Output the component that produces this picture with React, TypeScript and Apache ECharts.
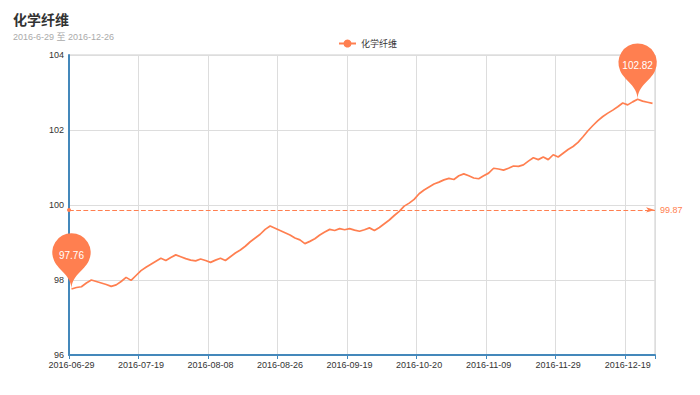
import React, { useEffect, useRef } from "react";
import * as echarts from "echarts";

const titleText = "化学纤维";
const subTitleText = "2016-6-29 至 2016-12-26";
const seriesName = "化学纤维";

const dates: string[] = [
  "2016-06-29", "2016-06-30", "2016-07-01", "2016-07-04", "2016-07-05", "2016-07-06", "2016-07-07", "2016-07-08",
  "2016-07-11", "2016-07-12", "2016-07-13", "2016-07-14", "2016-07-15", "2016-07-18", "2016-07-19", "2016-07-20",
  "2016-07-21", "2016-07-22", "2016-07-25", "2016-07-26", "2016-07-27", "2016-07-28", "2016-07-29", "2016-08-01",
  "2016-08-02", "2016-08-03", "2016-08-04", "2016-08-05", "2016-08-08", "2016-08-09", "2016-08-10", "2016-08-11",
  "2016-08-12", "2016-08-15", "2016-08-16", "2016-08-17", "2016-08-18", "2016-08-19", "2016-08-22", "2016-08-23",
  "2016-08-24", "2016-08-25", "2016-08-26", "2016-08-29", "2016-08-30", "2016-08-31", "2016-09-01", "2016-09-02",
  "2016-09-05", "2016-09-06", "2016-09-07", "2016-09-08", "2016-09-09", "2016-09-12", "2016-09-13", "2016-09-14",
  "2016-09-19", "2016-09-20", "2016-09-21", "2016-09-22", "2016-09-23", "2016-09-30", "2016-10-10", "2016-10-11",
  "2016-10-12", "2016-10-13", "2016-10-14", "2016-10-17", "2016-10-18", "2016-10-19", "2016-10-20", "2016-10-21",
  "2016-10-24", "2016-10-25", "2016-10-26", "2016-10-27", "2016-10-28", "2016-10-31", "2016-11-01", "2016-11-02",
  "2016-11-03", "2016-11-04", "2016-11-07", "2016-11-08", "2016-11-09", "2016-11-10", "2016-11-11", "2016-11-14",
  "2016-11-15", "2016-11-16", "2016-11-17", "2016-11-18", "2016-11-21", "2016-11-22", "2016-11-23", "2016-11-24",
  "2016-11-25", "2016-11-28", "2016-11-29", "2016-11-30", "2016-12-01", "2016-12-02", "2016-12-05", "2016-12-06",
  "2016-12-07", "2016-12-08", "2016-12-09", "2016-12-12", "2016-12-13", "2016-12-14", "2016-12-15", "2016-12-16",
  "2016-12-19", "2016-12-20", "2016-12-21", "2016-12-22", "2016-12-23", "2016-12-26",
];

const values: number[] = [
  97.76, 97.80, 97.82, 97.92, 98.00, 97.96, 97.92, 97.88,
  97.83, 97.87, 97.96, 98.07, 97.99, 98.12, 98.25, 98.34,
  98.42, 98.50, 98.58, 98.52, 98.60, 98.67, 98.62, 98.57,
  98.53, 98.51, 98.56, 98.52, 98.47, 98.53, 98.58, 98.52,
  98.62, 98.72, 98.80, 98.90, 99.02, 99.12, 99.22, 99.35,
  99.44, 99.38, 99.32, 99.26, 99.20, 99.12, 99.07, 98.97,
  99.03, 99.10, 99.20, 99.28, 99.35, 99.32, 99.37, 99.34,
  99.37, 99.33, 99.30, 99.34, 99.39, 99.32, 99.40, 99.50,
  99.60, 99.72, 99.83, 99.97, 100.05, 100.15, 100.30, 100.40,
  100.48, 100.56, 100.61, 100.67, 100.71, 100.68, 100.78, 100.83,
  100.78, 100.72, 100.70, 100.78, 100.85, 100.98, 100.96, 100.93,
  100.98, 101.04, 101.03, 101.07, 101.17, 101.26, 101.21, 101.28,
  101.21, 101.34, 101.28, 101.38, 101.48, 101.56, 101.67, 101.82,
  101.98, 102.12, 102.25, 102.36, 102.45, 102.53, 102.62, 102.72,
  102.67, 102.75, 102.82, 102.77, 102.74, 102.71,
];

const averageValue = 99.87;
const yMin = 96;
const yMax = 104;
const yStep = 2;

const FONT = "'Liberation Sans', 'Noto Sans CJK SC', sans-serif";
const COLOR = "#ff7f50";
const AXIS = "#4488bb";

export default function App() {
  const ref = useRef<HTMLDivElement>(null);
  useEffect(() => {
    if (!ref.current) return;
    const chart = echarts.init(ref.current, null, { renderer: "svg" });
    chart.setOption({
      animation: false,
      textStyle: { fontFamily: FONT },
      title: {
        text: titleText,
        subtext: subTitleText,
        left: 8,
        top: 8,
        itemGap: 6,
        textStyle: { fontSize: 14, fontWeight: "bold", color: "#333", fontFamily: FONT },
        subtextStyle: { fontSize: 9, color: "#aaa", fontFamily: FONT },
      },
      legend: {
        left: 333,
        top: 34,
        itemWidth: 17,
        itemHeight: 10,
        itemGap: 8,
        data: [seriesName],
        textStyle: { fontSize: 9, color: "#333", fontFamily: FONT },
      },
      grid: {
        left: 69,
        right: 45,
        top: 55,
        bottom: 40,
        show: true,
        borderColor: "#ccc",
        borderWidth: 1,
      },
      xAxis: {
        type: "category",
        data: dates,
        boundaryGap: true,
        axisLine: { lineStyle: { color: AXIS, width: 2 } },
        axisTick: { show: true, interval: 13, length: 4, lineStyle: { color: AXIS } },
        axisLabel: { interval: 13, fontSize: 9, color: "#333", margin: 5, fontFamily: FONT },
        splitLine: { show: true, interval: 13, lineStyle: { color: "#ddd", width: 1 } },
      },
      yAxis: {
        type: "value",
        min: yMin,
        max: yMax,
        interval: yStep,
        axisLine: { show: true, lineStyle: { color: AXIS, width: 2 } },
        axisTick: { show: false },
        axisLabel: { fontSize: 9, color: "#333", margin: 5, fontFamily: FONT },
        splitLine: { show: true, lineStyle: { color: "#ddd", width: 1 } },
      },
      series: [
        {
          name: seriesName,
          type: "line",
          data: values,
          showSymbol: false,
          symbol: "circle",
          symbolSize: 6,
          itemStyle: { color: COLOR },
          lineStyle: { color: COLOR, width: 1.7 },
          markPoint: {
            symbol: "pin",
            symbolSize: 64,
            label: { fontSize: 10, color: "#fff", fontFamily: FONT },
            itemStyle: { color: COLOR },
            data: [
              { type: "max", name: "最大值" },
              { type: "min", name: "最小值" },
            ],
          },
          markLine: {
            symbol: ["circle", "arrow"],
            symbolSize: [4, 9],
            lineStyle: { color: COLOR, type: "dashed", width: 1.2 },
            label: { color: COLOR, fontSize: 9, position: "end", fontFamily: FONT, formatter: "{c}" },
            data: [{ yAxis: averageValue, name: "平均值" }],
          },
        },
      ],
    });
    return () => chart.dispose();
  }, []);
  return (
    <div
      ref={ref}
      style={{ position: "absolute", left: 0, top: 0, width: 700, height: 395, background: "#fff" }}
    />
  );
}
